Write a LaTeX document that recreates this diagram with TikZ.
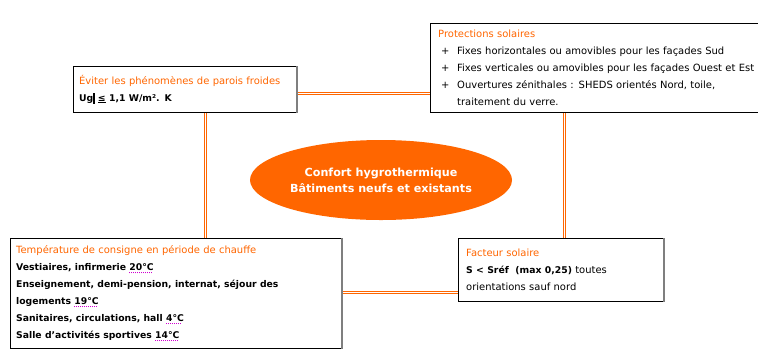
\documentclass[tikz,border=0pt]{standalone}
\usepackage{fontspec}
\setmainfont{DejaVu Sans}
\usetikzlibrary{shapes.geometric}
\definecolor{accent}{HTML}{FF6600}
\definecolor{spell}{HTML}{D000D0}
\definecolor{edgegray}{HTML}{7F7F7F}
% dotted spelling mark under a word
\newsavebox\spellbox
\newcommand\spellmark[1]{\sbox\spellbox{#1}%
  \rlap{\raisebox{-3pt}{\textcolor{spell}{\hbox to \wd\spellbox{%
    \leaders\hbox to 2bp{\rule{1bp}{1bp}\hss}\hfill}}}}%
  \usebox\spellbox}
% bullet of the solar protection list
\newcommand\plusitem{\makebox[19bp][l]{\hspace{3bp}+}}
\newcommand\heading[1]{\textcolor{accent}{#1}}
\newcommand\boldline[1]{{\fontsize{9.3}{17}\selectfont\bfseries #1}}
\begin{document}
\begin{tikzpicture}[x=1bp,y=-1bp,
  frame/.style={draw=black, line width=0.8bp, fill=white, anchor=north west, inner sep=0pt},
  infobox/.style={anchor=north west, align=left, inner ysep=0pt,
    font=\fontsize{10}{17}\selectfont},
  shadeedge/.style={draw=edgegray, line width=1.6bp},
  link/.style={draw=accent, double=white, line width=1bp, double distance=1bp},
  hub/.style={ellipse, fill=accent, text=white, align=center, inner sep=0pt,
    font=\fontsize{11.2}{16}\selectfont\bfseries}]
\useasboundingbox (0,0) rectangle (758,361);

% box frames
\node[frame, minimum width=223bp, minimum height=46bp] (walls) at (73,66) {};
\node[frame, minimum width=346bp, minimum height=89bp] (solar) at (430,23) {};
\node[frame, minimum width=331bp, minimum height=110bp] (temp) at (10,238) {};
\node[frame, minimum width=205bp, minimum height=63bp] (factor) at (458,238) {};

% double connectors between the boxes
\draw[link] ([yshift=-4.5bp]walls.east) -- ([yshift=-4.5bp]walls.east -| solar.west);
\draw[link] ([xshift=21bp]walls.south) -- ([xshift=21bp]walls.south |- temp.north);
\draw[link] ([xshift=4bp]factor.north) -- ([xshift=4bp]factor.north |- solar.south);
\draw[link] ([yshift=0.5bp]temp.east) -- ([yshift=0.5bp]temp.east -| factor.west);

% darker right edges of the boxes
\draw[shadeedge] (walls.north east) -- (walls.south east);
\draw[shadeedge] (temp.north east) -- (temp.south east);
\draw[shadeedge] (factor.north east) -- (factor.south east);

% central topic
\node[hub, minimum width=262bp, minimum height=80bp] (core) at (381,180)
  {Confort hygrothermique\\Bâtiments neufs et existants};

% box texts
\node[infobox, inner xsep=6bp, text width=211bp,
  minimum width=223bp, minimum height=46bp] (wallstext) at (walls.north west)
  {\heading{Éviter les phénomènes de parois froides}\\
   \boldline{Ug\rule[-2.5pt]{1.3pt}{11pt}\ \underline{≤} 1,1 W/m². K}};

\node[infobox, inner xsep=8bp, text width=330bp,
  minimum width=346bp, minimum height=89bp] (solartext) at (solar.north west)
  {\heading{Protections solaires}\\
   \plusitem Fixes horizontales ou amovibles pour les façades Sud\\
   \plusitem Fixes verticales ou amovibles pour les façades Ouest et Est\\
   \plusitem Ouvertures zénithales : SHEDS orientés Nord, toile,\\
   \hspace{19bp}traitement du verre.};

\node[infobox, inner xsep=6bp, text width=319bp,
  minimum width=331bp, minimum height=110bp] (temptext) at (temp.north west)
  {\heading{Température de consigne en période de chauffe}\\
   \boldline{Vestiaires, infirmerie \spellmark{20°C}}\\
   \boldline{Enseignement, demi-pension, internat, séjour des}\\
   \boldline{logements \spellmark{19°C}}\\
   \boldline{Sanitaires, circulations, hall \spellmark{4°C}}\\
   \boldline{Salle d'activités sportives \spellmark{14°C}}};

\node[infobox, inner xsep=8bp, text width=189bp,
  minimum width=205bp, minimum height=63bp] (factortext) at (factor.north west)
  {\heading{Facteur solaire}\\
   \boldline{S < Sréf\ \ (max 0,25)} toutes\\
   orientations sauf nord};
\end{tikzpicture}
\end{document}
